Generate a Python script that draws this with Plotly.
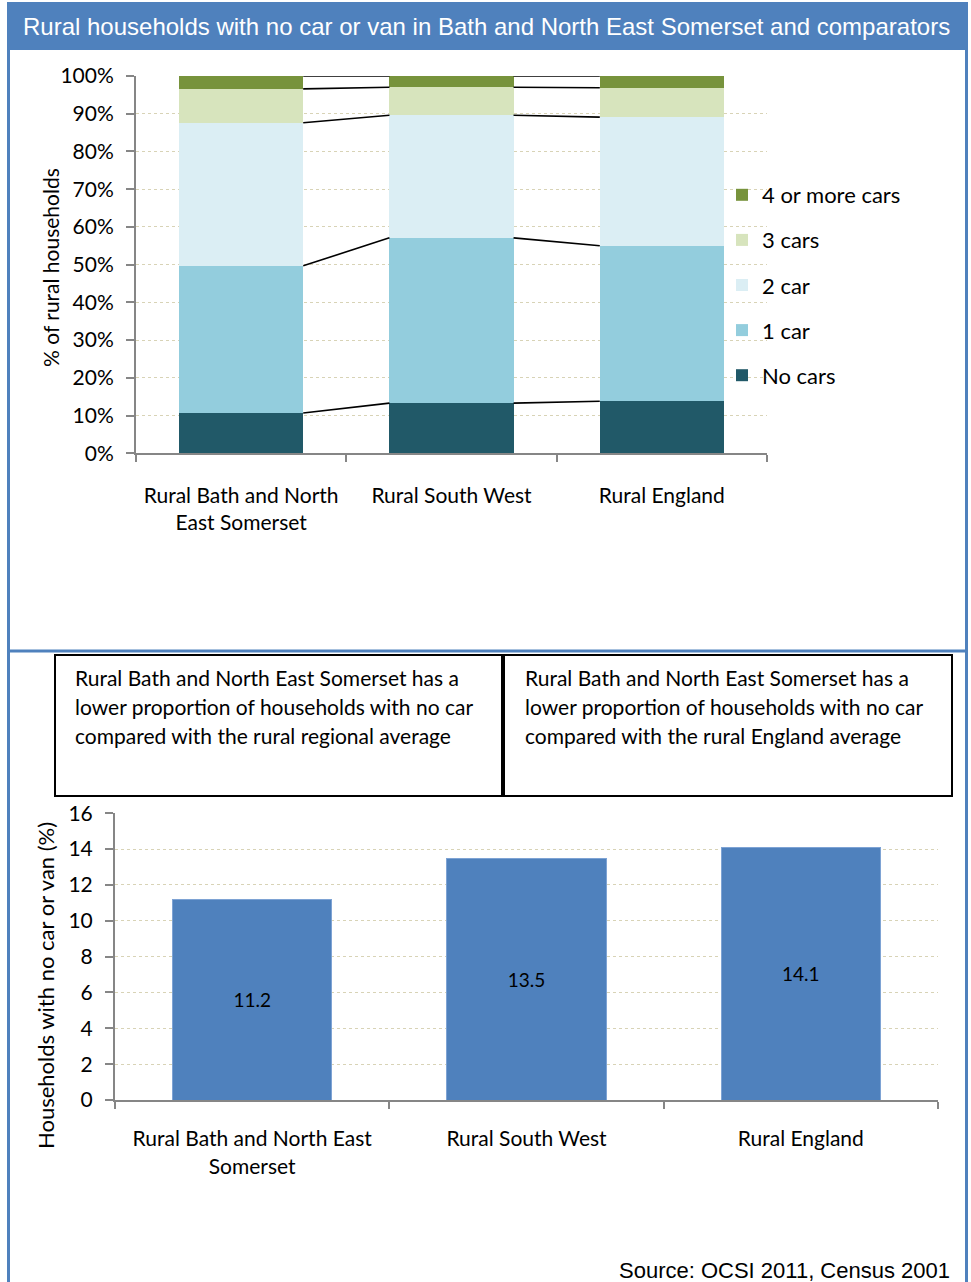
import plotly.graph_objects as go

W, H = 971, 1282

# ---------------- data ----------------
areas_top = ["Rural Bath and North<br>East Somerset", "Rural South West", "Rural England"]
series_names = ["No cars", "1 car", "2 car", "3 cars", "4 or more cars"]
no_cars = [10.7, 13.3, 13.8]
one_car = [39.0, 43.8, 41.2]
two_car = [37.9, 32.5, 34.1]
three_cars = [9.0, 7.4, 7.8]
four_plus = [3.4, 3.0, 3.1]
series_colors = ["#215968", "#93cddd", "#dbeef4", "#d7e4bd", "#77933c"]

areas_bottom = ["Rural Bath and North East<br>Somerset", "Rural South West", "Rural England"]
no_car_pct = [11.2, 13.5, 14.1]

top_ticks = [0, 10, 20, 30, 40, 50, 60, 70, 80, 90, 100]
top_tick_text = [f"{v}%" for v in top_ticks]
bottom_ticks = [0, 2, 4, 6, 8, 10, 12, 14, 16]

box_left_lines = ["Rural Bath and North East Somerset has a",
                  "lower proportion of households with no car",
                  "compared with the rural regional average"]
box_right_lines = ["Rural Bath and North East Somerset has a",
                   "lower proportion of households with no car",
                   "compared with the rural England average"]

title_text = "Rural households with no car or van in Bath and North East Somerset and comparators"
source_text = "Source: OCSI 2011, Census 2001"

# ---------------- helpers ----------------
def px_x(x):
    return x / W

def px_y(y):
    return 1 - y / H

FONT = "Lato"
AX_COL = "#868686"
GRID_COL = "#d8d3b6"
BAR_W1 = 0.59
BAR_W2 = 0.58

fig = go.Figure()

xs = list(range(len(areas_top)))
stack = [no_cars, one_car, two_car, three_cars, four_plus]
n = len(series_names)
for k, (name, vals, col) in enumerate(zip(series_names, stack, series_colors)):
    fig.add_trace(go.Bar(
        x=xs, y=vals, name=name, marker=dict(color=col, line=dict(width=0)),
        width=BAR_W1, xaxis="x", yaxis="y", legendgroup=name, legendrank=n - k,
        hoverinfo="skip",
    ))

# series lines connecting stack boundaries between bars
cum = []
running = [0.0] * len(xs)
for vals in stack:
    running = [r + v for r, v in zip(running, vals)]
    cum.append(list(running))
lx, ly = [], []
for level in cum:
    for i in range(len(xs) - 1):
        lx += [xs[i] + BAR_W1 / 2, xs[i + 1] - BAR_W1 / 2, None]
        ly += [level[i], level[i + 1], None]
fig.add_trace(go.Scatter(x=lx, y=ly, mode="lines", line=dict(color="black", width=1.6),
                         showlegend=False, xaxis="x", yaxis="y", hoverinfo="skip"))

# bottom chart
fig.add_trace(go.Bar(
    x=xs, y=no_car_pct, width=BAR_W2, marker=dict(color="#4f81bd", line=dict(color="#7ea3d4", width=1)),
    text=[f"{v:.1f}" for v in no_car_pct], textposition="inside", insidetextanchor="middle",
    textfont=dict(family=FONT, size=19, color="black"), showlegend=False,
    xaxis="x2", yaxis="y2", hoverinfo="skip", cliponaxis=False,
))

tick_font = dict(family=FONT, size=21, color="black")

fig.update_layout(
    template="none",
    width=W, height=H, margin=dict(l=0, r=0, t=0, b=0, autoexpand=False),
    paper_bgcolor="white", plot_bgcolor="white",
    barmode="stack", showlegend=True,
    legend=dict(
        x=px_x(722), y=px_y(174), xanchor="left", yanchor="top",
        traceorder="grouped", tracegroupgap=13.5,
        font=dict(family=FONT, size=22, color="black"),
        bgcolor="rgba(0,0,0,0)", borderwidth=0,
    ),
    xaxis=dict(
        domain=[px_x(136), px_x(767)], range=[-0.5, 2.5], automargin=False,
        tickvals=xs, ticktext=areas_top, ticks="", ticklen=0,
        tickfont=tick_font, ticklabelstandoff=22,
        showline=True, linecolor=AX_COL, linewidth=2, showgrid=False, zeroline=False,
        minor=dict(tickvals=[-0.5, 0.5, 1.5, 2.5], ticks="outside", ticklen=7,
                   tickcolor=AX_COL, tickwidth=2, showgrid=False),
        fixedrange=True,
    ),
    yaxis=dict(
        domain=[px_y(453.3), px_y(76)], range=[0, 100], automargin=False,
        tickvals=top_ticks, ticktext=top_tick_text, ticks="outside", ticklen=8,
        tickcolor=AX_COL, tickwidth=2, tickfont=tick_font, ticklabelstandoff=8,
        showline=True, linecolor=AX_COL, linewidth=2,
        showgrid=True, gridcolor=GRID_COL, gridwidth=1, griddash="dot", zeroline=False,
        fixedrange=True,
    ),
    xaxis2=dict(
        domain=[px_x(115), px_x(938)], range=[-0.5, 2.5], anchor="y2", automargin=False,
        tickvals=xs, ticktext=areas_bottom, ticks="", ticklen=0,
        tickfont=tick_font, ticklabelstandoff=19,
        showline=True, linecolor=AX_COL, linewidth=2, showgrid=False, zeroline=False,
        minor=dict(tickvals=[-0.5, 0.5, 1.5, 2.5], ticks="outside", ticklen=7,
                   tickcolor=AX_COL, tickwidth=2, showgrid=False),
        fixedrange=True,
    ),
    yaxis2=dict(
        domain=[px_y(1100), px_y(813.3)], range=[0, 16], anchor="x2", automargin=False,
        tickvals=bottom_ticks, ticks="outside", ticklen=8,
        tickcolor=AX_COL, tickwidth=2, tickfont=tick_font, ticklabelstandoff=8,
        showline=True, linecolor=AX_COL, linewidth=2,
        showgrid=True, gridcolor=GRID_COL, gridwidth=1, griddash="dot", zeroline=False,
        fixedrange=True,
    ),
)

shapes = []
BLUE = "#4f81bd"
# title bar
shapes.append(dict(type="rect", xref="paper", yref="paper", x0=px_x(7), x1=px_x(968),
                   y0=px_y(50), y1=px_y(2), fillcolor=BLUE, line=dict(width=0), layer="below"))
# frame lines
shapes.append(dict(type="line", xref="paper", yref="paper", x0=px_x(8.5), x1=px_x(8.5),
                   y0=px_y(2), y1=px_y(1282), line=dict(color=BLUE, width=3)))
shapes.append(dict(type="line", xref="paper", yref="paper", x0=px_x(966.5), x1=px_x(966.5),
                   y0=px_y(2), y1=px_y(1282), line=dict(color=BLUE, width=3)))
shapes.append(dict(type="line", xref="paper", yref="paper", x0=px_x(8), x1=px_x(968),
                   y0=px_y(651), y1=px_y(651), line=dict(color=BLUE, width=3)))
# text boxes
shapes.append(dict(type="rect", xref="paper", yref="paper", x0=px_x(55), x1=px_x(502),
                   y0=px_y(796), y1=px_y(655), line=dict(color="black", width=2)))
shapes.append(dict(type="rect", xref="paper", yref="paper", x0=px_x(504), x1=px_x(952),
                   y0=px_y(796), y1=px_y(655), line=dict(color="black", width=2)))

annotations = []
annotations.append(dict(text=title_text, xref="paper", yref="paper", x=px_x(487), y=px_y(27),
                        xanchor="center", yanchor="middle", showarrow=False,
                        font=dict(family="Liberation Sans", size=24, color="white")))
annotations.append(dict(text="% of rural households", xref="paper", yref="paper",
                        x=px_x(50), y=px_y(268), textangle=-90, xanchor="center", yanchor="middle",
                        showarrow=False, font=dict(family=FONT, size=21, color="black")))
annotations.append(dict(text="Households with no car or van (%)", xref="paper", yref="paper",
                        x=px_x(45), y=px_y(986), textangle=-90, xanchor="center", yanchor="middle",
                        showarrow=False, font=dict(family=FONT, size=22, color="black")))
for lines, x0 in ((box_left_lines, 73), (box_right_lines, 523)):
    for k, line in enumerate(lines):
        annotations.append(dict(text=line, xref="paper", yref="paper", x=px_x(x0),
                                y=px_y(677 + 29 * k), xanchor="left", yanchor="middle",
                                showarrow=False, font=dict(family=FONT, size=21, color="black")))
annotations.append(dict(text=source_text, xref="paper", yref="paper", x=px_x(952), y=px_y(1270),
                        xanchor="right", yanchor="middle", showarrow=False,
                        font=dict(family="Liberation Sans", size=22, color="black")))

fig.update_layout(shapes=shapes, annotations=annotations)

fig.write_html("out.html")
